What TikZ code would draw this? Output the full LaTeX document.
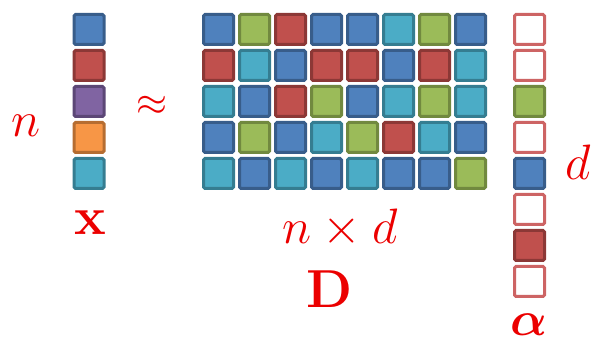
\documentclass[tikz,border=0pt]{standalone}
\usepackage{graphicx}
\usepackage{amsmath,bm}
\definecolor{cB}{RGB}{79,129,189}\definecolor{bB}{RGB}{56,93,138}
\definecolor{cR}{RGB}{192,80,77}\definecolor{bR}{RGB}{140,56,54}
\definecolor{cG}{RGB}{155,187,89}\definecolor{bG}{RGB}{113,137,63}
\definecolor{cC}{RGB}{75,172,198}\definecolor{bC}{RGB}{53,125,145}
\definecolor{cP}{RGB}{128,100,162}\definecolor{bP}{RGB}{92,71,118}
\definecolor{cO}{RGB}{247,150,70}\definecolor{bO}{RGB}{182,109,49}
\definecolor{cW}{RGB}{255,255,255}\definecolor{bW}{RGB}{205,100,100}
\definecolor{lbl}{RGB}{235,0,0}
\begin{document}
\begin{tikzpicture}[x=1pt,y=-1pt,
  cell/.style={draw=b#1,fill=c#1,line width=3pt,rounded corners=1.5pt,minimum size=30pt,inner sep=0pt},
  lab/.style={text=lbl,inner sep=0pt,anchor=base,font=\Huge}]
\useasboundingbox (0,0) rectangle (595,347);
% x vector
\foreach \c [count=\i from 0] in {B,R,P,O,C}
  \node[cell=\c] (x\i) at (89,29.5+36*\i) {};
% D matrix
\foreach \row [count=\r from 0] in {{B,G,R,B,B,C,G,B},{R,C,B,R,R,B,R,C},{C,B,R,G,B,C,G,C},{B,G,B,C,G,R,C,B},{C,B,C,B,C,B,B,G}}
  \foreach \c [count=\j from 0] in \row
    \node[cell=\c] (d\r\j) at (218.5+36*\j,29.5+36*\r) {};
% alpha vector
\foreach \c [count=\i from 0] in {W,W,G,W,B,W,R,W}
  \node[cell=\c] (a\i) at (529.5,29.5+36*\i) {};
% labels
\node[lab] (ln) at (26,137) {\scalebox{2}{$n$}};
\node[text=lbl,inner sep=0pt,font=\Huge] (approx) at (152,106) {\scalebox{1.6}{$\approx$}};
\node[lab] (lx) at (90,235) {\scalebox{2.15}{$\mathbf{x}$}};
\node[lab] (lnd) at (340,244) {\scalebox{2}{$n\times d$}};
\node[lab] (lD) at (330,308) {\scalebox{2.15}{$\mathbf{D}$}};
\node[lab] (ld) at (578,180) {\scalebox{2}{$d$}};
\node[lab] (la) at (529,336) {\scalebox{1.95}{$\bm{\alpha}$}};
\end{tikzpicture}
\end{document}
